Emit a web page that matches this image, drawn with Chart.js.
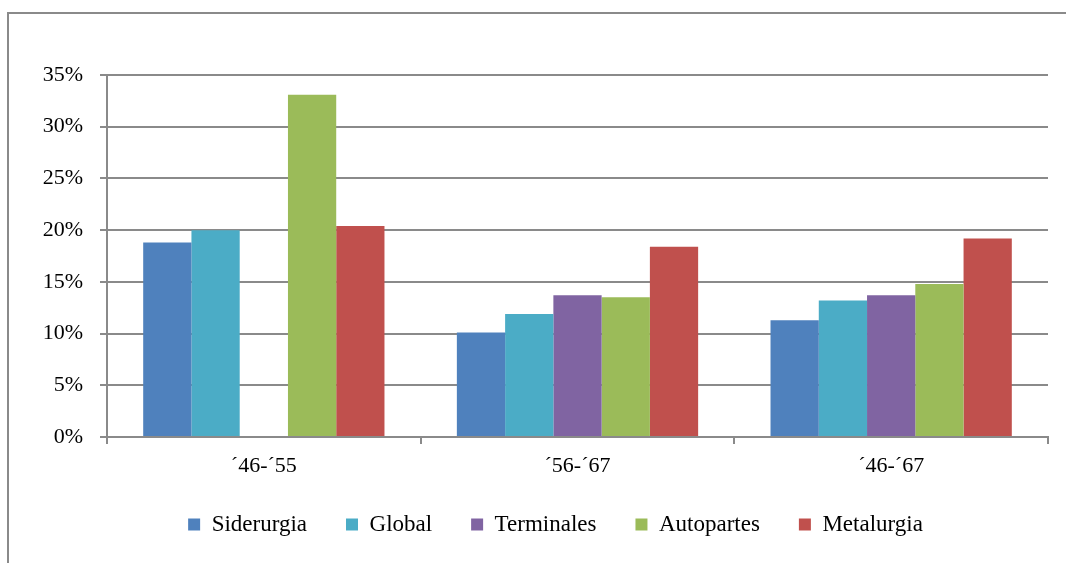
<!DOCTYPE html>
<html>
<head>
<meta charset="utf-8">
<script src="https://cdn.jsdelivr.net/npm/chart.js@4/dist/chart.umd.min.js"></script>
<style>
  html, body { margin: 0; padding: 0; background: #fff; }
  #wrap { width: 1066px; height: 563px; position: relative; }
</style>
</head>
<body>
<div id="wrap"><canvas id="grafico"></canvas></div>
<script>
// Periodos (eje X)
const periodos = ['´46-´55', '´56-´67', '´46-´67'];

// Tasas de crecimiento por sector (%)
const siderurgia = [18.8, 10.1, 11.3];
const global = [20.0, 11.9, 13.2];
const terminales = [null, 13.7, 13.7];
const autopartes = [33.1, 13.5, 14.8];
const metalurgia = [20.4, 18.4, 19.2];

// Ticks del eje Y
const yMin = 0;
const yMax = 35;
const yPaso = 5;

const gris = '#8a8a8a';
const fuente = 'Liberation Serif, Times New Roman, serif';

// Marco exterior (solo borde superior e izquierdo visibles)
const marcoPlugin = {
    id: 'marco',
    beforeDraw(chart) {
        const ctx = chart.ctx;
        ctx.save();
        ctx.strokeStyle = gris;
        ctx.lineWidth = 2;
        ctx.beginPath();
        ctx.moveTo(8, chart.height);
        ctx.lineTo(8, 13);
        ctx.lineTo(chart.width, 13);
        ctx.stroke();
        ctx.restore();
    }
};

// Recolocar la leyenda como en el original
const leyendaPlugin = {
    id: 'leyendaPos',
    afterLayout(chart) {
        const lg = chart.legend;
        if (!lg) return;
        const h = lg.height;
        lg.top = 474;
        lg.bottom = 474 + h;
        lg.left = 63;
    }
};

const ctx = document.getElementById('grafico').getContext('2d');
new Chart(ctx, {
    type: 'bar',
    data: {
        labels: periodos,
        datasets: [
            { label: 'Siderurgia', data: siderurgia, backgroundColor: '#4F81BD' },
            { label: 'Global', data: global, backgroundColor: '#4BACC6' },
            { label: 'Terminales', data: terminales, backgroundColor: '#8064A2' },
            { label: 'Autopartes', data: autopartes, backgroundColor: '#9BBB59' },
            { label: 'Metalurgia', data: metalurgia, backgroundColor: '#C0504D' }
        ]
    },
    options: {
        responsive: true,
        maintainAspectRatio: false,
        animation: false,
        datasets: {
            bar: { categoryPercentage: 5 / 6.5, barPercentage: 1 }
        },
        layout: {
            padding: { top: 75, right: 18, bottom: 0, left: 0 }
        },
        plugins: {
            legend: {
                position: 'bottom',
                labels: {
                    boxWidth: 12,
                    boxHeight: 12,
                    padding: 39,
                    color: '#000',
                    font: { family: fuente, size: 23 }
                }
            },
            tooltip: { enabled: false }
        },
        scales: {
            x: {
                grid: {
                    drawOnChartArea: false,
                    drawTicks: true,
                    tickLength: 7,
                    color: gris,
                    lineWidth: 2
                },
                border: { display: true, color: gris, width: 2 },
                ticks: {
                    color: '#000',
                    padding: 9,
                    font: { family: fuente, size: 22 }
                },
                afterFit(scale) { scale.height = 54; }
            },
            y: {
                min: yMin,
                max: yMax,
                grid: {
                    color: gris,
                    lineWidth: 2,
                    tickLength: 7
                },
                border: { display: true, color: gris, width: 2 },
                ticks: {
                    stepSize: yPaso,
                    color: '#000',
                    padding: 17,
                    font: { family: fuente, size: 22 },
                    callback: (v) => v + '%'
                },
                afterFit(scale) { scale.width = 107; }
            }
        }
    },
    plugins: [marcoPlugin, leyendaPlugin]
});
</script>
</body>
</html>
